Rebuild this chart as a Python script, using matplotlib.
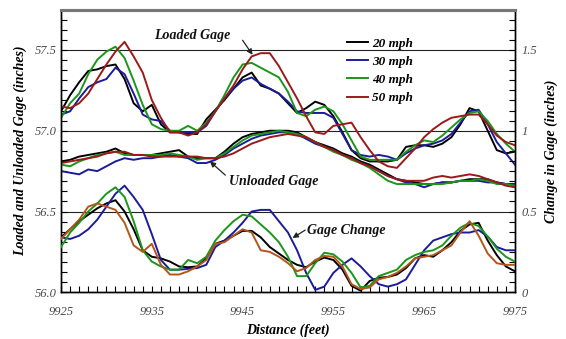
import matplotlib
matplotlib.use("Agg")
import matplotlib.pyplot as plt
from matplotlib.ticker import MultipleLocator, FixedLocator
import numpy as np

plt.rcParams["font.family"] = ["Liberation Serif", "DejaVu Serif"]

# distance along track (feet), one reading per foot
distance = np.arange(9925, 9976, 1)
speeds = ["20 mph", "30 mph", "40 mph", "50 mph"]
x_ticks = [9925, 9935, 9945, 9955, 9965, 9975]

# loaded gage (inches)
loaded_20 = [57.12, 57.22, 57.30, 57.37, 57.38, 57.40, 57.41, 57.32, 57.17, 57.12,
             57.16, 57.04, 56.99, 56.99, 56.98, 56.98, 57.07, 57.13, 57.19, 57.26,
             57.33, 57.36, 57.28, 57.26, 57.23, 57.17, 57.11, 57.14, 57.18, 57.16,
             57.09, 56.99, 56.88, 56.83, 56.81, 56.81, 56.81, 56.82, 56.90, 56.91,
             56.91, 56.90, 56.92, 56.96, 57.04, 57.14, 57.12, 57.00, 56.88, 56.86, 56.87]
loaded_30 = [57.10, 57.12, 57.20, 57.27, 57.30, 57.32, 57.39, 57.35, 57.23, 57.10,
             57.07, 57.06, 57.00, 56.99, 56.99, 56.99, 57.03, 57.12, 57.20, 57.26,
             57.31, 57.33, 57.29, 57.26, 57.23, 57.18, 57.12, 57.11, 57.11, 57.11,
             57.08, 56.98, 56.88, 56.85, 56.84, 56.85, 56.84, 56.82, 56.86, 56.89,
             56.91, 56.92, 56.94, 56.98, 57.05, 57.12, 57.13, 57.04, 56.93, 56.86, 56.79]
loaded_40 = [57.08, 57.17, 57.23, 57.35, 57.44, 57.49, 57.52, 57.45, 57.31, 57.16,
             57.04, 57.01, 57.00, 57.00, 57.03, 57.00, 57.05, 57.12, 57.22, 57.33,
             57.41, 57.42, 57.39, 57.36, 57.33, 57.24, 57.11, 57.09, 57.13, 57.15,
             57.12, 57.04, 56.94, 56.84, 56.82, 56.82, 56.82, 56.82, 56.87, 56.91,
             56.94, 56.93, 56.97, 57.02, 57.07, 57.11, 57.12, 57.06, 56.98, 56.92, 56.87]
loaded_50 = [57.15, 57.14, 57.17, 57.23, 57.32, 57.41, 57.49, 57.55, 57.46, 57.36,
             57.19, 57.08, 56.99, 56.99, 56.97, 56.99, 57.04, 57.12, 57.20, 57.28,
             57.38, 57.46, 57.48, 57.48, 57.40, 57.30, 57.20, 57.09, 56.99, 56.98,
             57.03, 57.04, 57.05, 56.96, 56.88, 56.81, 56.78, 56.77, 56.83, 56.89,
             56.96, 57.01, 57.05, 57.08, 57.09, 57.10, 57.10, 57.04, 56.97, 56.93, 56.91]

# unloaded gage (inches)
unloaded_20 = [56.81, 56.82, 56.84, 56.85, 56.86, 56.87, 56.89, 56.86, 56.85, 56.85,
               56.85, 56.86, 56.87, 56.88, 56.84, 56.83, 56.83, 56.83, 56.87, 56.92,
               56.96, 56.98, 56.99, 57.00, 57.00, 57.00, 56.99, 56.96, 56.93, 56.91,
               56.89, 56.86, 56.84, 56.81, 56.79, 56.76, 56.73, 56.70, 56.69, 56.68,
               56.67, 56.67, 56.68, 56.68, 56.69, 56.70, 56.70, 56.70, 56.68, 56.67, 56.67]
unloaded_30 = [56.75, 56.74, 56.73, 56.76, 56.75, 56.78, 56.81, 56.83, 56.82, 56.83,
               56.83, 56.84, 56.85, 56.84, 56.83, 56.80, 56.80, 56.82, 56.85, 56.89,
               56.92, 56.95, 56.97, 56.98, 56.99, 56.99, 56.98, 56.95, 56.92, 56.90,
               56.88, 56.85, 56.83, 56.80, 56.78, 56.75, 56.72, 56.70, 56.68, 56.67,
               56.65, 56.67, 56.68, 56.68, 56.69, 56.69, 56.69, 56.68, 56.68, 56.67, 56.67]
unloaded_40 = [56.79, 56.78, 56.81, 56.83, 56.85, 56.86, 56.87, 56.85, 56.85, 56.85,
               56.85, 56.85, 56.86, 56.85, 56.84, 56.82, 56.83, 56.83, 56.86, 56.90,
               56.94, 56.97, 56.98, 56.99, 57.00, 56.99, 56.98, 56.96, 56.93, 56.90,
               56.87, 56.85, 56.82, 56.80, 56.77, 56.73, 56.69, 56.67, 56.67, 56.67,
               56.67, 56.67, 56.67, 56.68, 56.69, 56.69, 56.70, 56.69, 56.67, 56.67, 56.66]
unloaded_50 = [56.80, 56.81, 56.82, 56.83, 56.84, 56.86, 56.87, 56.87, 56.85, 56.85,
               56.84, 56.84, 56.84, 56.84, 56.84, 56.84, 56.83, 56.83, 56.84, 56.86,
               56.89, 56.92, 56.94, 56.96, 56.97, 56.98, 56.97, 56.96, 56.93, 56.90,
               56.88, 56.85, 56.83, 56.80, 56.78, 56.75, 56.72, 56.70, 56.69, 56.69,
               56.69, 56.71, 56.72, 56.71, 56.72, 56.73, 56.72, 56.70, 56.68, 56.66, 56.65]

# change in gage (inches), right axis
change_20 = [0.34, 0.39, 0.44, 0.48, 0.52, 0.55, 0.57, 0.50, 0.39, 0.26,
             0.22, 0.21, 0.19, 0.16, 0.155, 0.16, 0.21, 0.30, 0.32, 0.35,
             0.38, 0.38, 0.34, 0.28, 0.24, 0.20, 0.17, 0.155, 0.19, 0.215,
             0.20, 0.14, 0.04, 0.01, 0.07, 0.09, 0.095, 0.11, 0.15, 0.21,
             0.23, 0.22, 0.26, 0.31, 0.38, 0.42, 0.43, 0.32, 0.23, 0.16, 0.13]
change_30 = [0.34, 0.33, 0.35, 0.39, 0.45, 0.53, 0.61, 0.66, 0.59, 0.51,
             0.36, 0.20, 0.14, 0.14, 0.145, 0.15, 0.17, 0.28, 0.32, 0.37,
             0.43, 0.50, 0.51, 0.51, 0.44, 0.37, 0.26, 0.12, 0.015, 0.035,
             0.12, 0.17, 0.21, 0.16, 0.10, 0.05, 0.035, 0.05, 0.08, 0.17,
             0.26, 0.32, 0.34, 0.36, 0.37, 0.37, 0.385, 0.345, 0.28, 0.26, 0.26]
change_40 = [0.28, 0.37, 0.43, 0.50, 0.55, 0.61, 0.65, 0.59, 0.44, 0.26,
             0.19, 0.16, 0.14, 0.14, 0.20, 0.18, 0.22, 0.32, 0.385, 0.44,
             0.48, 0.47, 0.42, 0.37, 0.31, 0.22, 0.10, 0.10, 0.18, 0.245,
             0.235, 0.19, 0.12, 0.03, 0.04, 0.10, 0.12, 0.14, 0.20, 0.23,
             0.25, 0.26, 0.29, 0.35, 0.40, 0.43, 0.41, 0.345, 0.27, 0.22, 0.19]
change_50 = [0.33, 0.39, 0.45, 0.53, 0.55, 0.53, 0.51, 0.43, 0.29, 0.25,
             0.30, 0.17, 0.11, 0.11, 0.13, 0.16, 0.20, 0.30, 0.31, 0.35,
             0.39, 0.37, 0.26, 0.25, 0.22, 0.18, 0.13, 0.15, 0.20, 0.225,
             0.22, 0.16, 0.05, 0.02, 0.03, 0.08, 0.095, 0.12, 0.16, 0.21,
             0.22, 0.23, 0.26, 0.29, 0.37, 0.44, 0.35, 0.24, 0.18, 0.17, 0.17]

colors = ["#000000", "#1c1c9a", "#1a961a", "#9a1a1a"]
change_colors = ["#000000", "#1c1c9a", "#1a961a", "#b4561c"]
TICK_GRAY = "#4a4a4a"

fig = plt.figure(figsize=(5.66, 3.39), dpi=100)
ax = fig.add_axes([0.1078, 0.1378, 0.802, 0.834])
ax2 = ax.twinx()

for yv in (56.5, 57.0, 57.5):
    ax.axhline(yv, color="#222222", lw=0.8, zorder=1)

loaded = [loaded_20, loaded_30, loaded_40, loaded_50]
unloaded = [unloaded_20, unloaded_30, unloaded_40, unloaded_50]
change = [change_20, change_30, change_40, change_50]

for lab, col, ld, ul in zip(speeds, colors, loaded, unloaded):
    ax.plot(distance, ld, color=col, lw=1.4, label=lab, zorder=3)
    ax.plot(distance, ul, color=col, lw=1.4, zorder=3)
for col, ch in zip(change_colors, change):
    ax2.plot(distance, ch, color=col, lw=1.4, zorder=3)

ax.set_xlim(9925, 9975)
ax.set_ylim(56.0, 57.75)
ax2.set_ylim(0, 1.75)

ax.xaxis.set_major_locator(FixedLocator(x_ticks))
ax.xaxis.set_minor_locator(MultipleLocator(1))
ax.yaxis.set_major_locator(FixedLocator([56.0, 56.5, 57.0, 57.5]))
ax.yaxis.set_minor_locator(MultipleLocator(0.0625))
ax.set_yticklabels(["56.0", "56.5", "57.0", "57.5"])
ax2.yaxis.set_major_locator(FixedLocator([0, 0.5, 1, 1.5]))
ax2.yaxis.set_minor_locator(MultipleLocator(0.0625))
ax2.set_yticklabels(["0", "0.5", "1", "1.5"])

tick_font = dict(labelsize=9, labelcolor=TICK_GRAY)
ax.tick_params(axis="x", which="both", direction="in", length=4, width=0.8, pad=10, **tick_font)
ax.tick_params(axis="y", which="both", direction="in", length=4, width=0.8, right=False, pad=3, **tick_font)
ax2.tick_params(axis="y", which="both", direction="in", length=4, width=0.8, pad=5, **tick_font)
for t in ax.get_xticklabels() + ax.get_yticklabels() + ax2.get_yticklabels():
    t.set_style("italic")

for a in (ax, ax2):
    a.spines["top"].set_color("#777777")
    a.spines["top"].set_linewidth(2.2)
    for s in ("left", "right", "bottom"):
        a.spines[s].set_linewidth(1.0)

lab_font = dict(fontsize=10, fontweight="bold", style="italic")
ax.set_xlabel("Distance (feet)", labelpad=4, **lab_font)
ax.set_ylabel("Loaded and Unloaded Gage (inches)", labelpad=6, **lab_font)
ax2.set_ylabel("Change in Gage (inches)", labelpad=5, **lab_font)

leg = ax.legend(loc="upper right", bbox_to_anchor=(0.79, 0.925), frameon=False,
                handlelength=1.6, handletextpad=0.3, labelspacing=0.45,
                borderpad=0.0, prop=dict(size=9.5, weight="bold", style="italic"))

ann_font = dict(fontsize=10, style="italic", fontweight="bold", color="#111111")
arrow = dict(arrowstyle="-|>", color="#222222", lw=0.9, mutation_scale=8, shrinkA=0, shrinkB=0)
ax.text(9939.5, 57.59, "Loaded Gage", ha="center", va="center", **ann_font)
ax.annotate("", xy=(9946.1, 57.47), xytext=(9945.0, 57.56), arrowprops=arrow)
ax.text(9943.5, 56.683, "Unloaded Gage", ha="left", va="center", **ann_font)
ax.annotate("", xy=(9941.4, 56.81), xytext=(9943.1, 56.725), arrowprops=arrow)
ax.text(9952.1, 56.385, "Gage Change", ha="left", va="center", **ann_font)
ax.annotate("", xy=(9950.5, 56.336), xytext=(9951.9, 56.385), arrowprops=arrow)

fig.savefig("out.png", dpi=100)
